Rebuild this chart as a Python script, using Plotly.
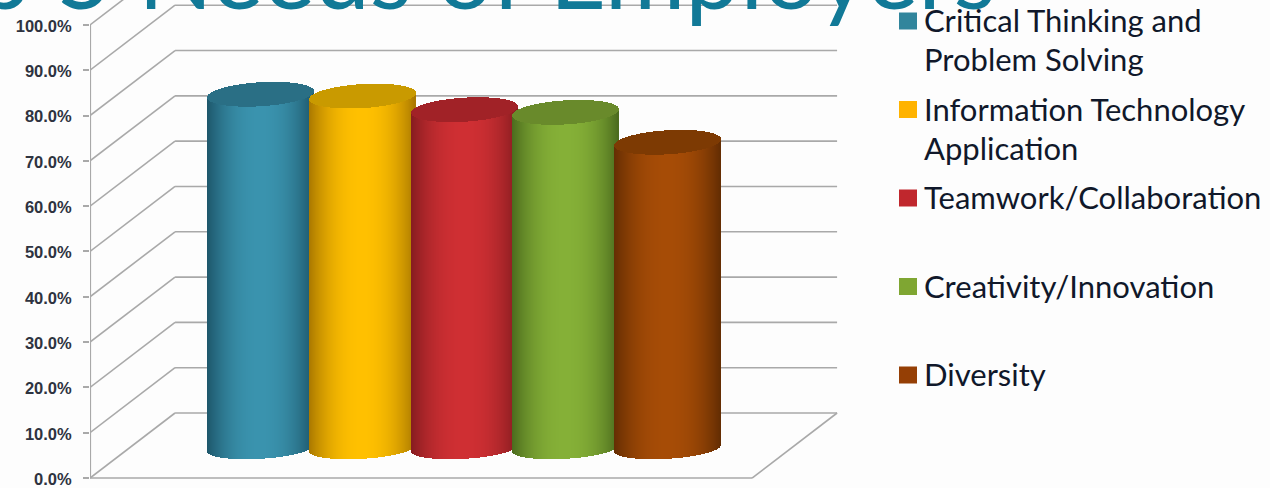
import math
import plotly.graph_objects as go

# Survey results, one cylinder per skill
categories = ["Critical Thinking and<br>Problem Solving", "Information Technology<br>Application",
              "Teamwork/Collaboration", "Creativity/Innovation", "Diversity"]
values = [78.1, 77.7, 74.7, 74.1, 67.5]
tick_values = [0, 10, 20, 30, 40, 50, 60, 70, 80, 90, 100]
tick_labels = [f"{v:.1f}%" for v in tick_values]

# mid tone, edge tone and cap tone of each cylinder
mid_colors = ["#3a93ae", "#ffc000", "#cf2f33", "#85b037", "#a64c06"]
edge_colors = ["#1d566a", "#a97800", "#861c20", "#4b6b1d", "#642d03"]
cap_colors = ["#2a6f85", "#c99a00", "#a12227", "#698a2b", "#7d3a03"]
swatch_colors = ["#31859c", "#ffb300", "#c0272d", "#7fa632", "#953f05"]

# Plot geometry in axis units
WIDTH, HEIGHT = 1270, 488
M_LEFT = 90
X_MIN, X_MAX = -1.683, 9.931
Y_MIN, Y_MAX = -2.2, 105.5
DEPTH_X, DEPTH_Y = 0.837, 14.35     # shift from the front edge to the back wall
FRONT_RIGHT = 4.833
LIFT = 6.6                          # cylinders stand mid-way across the floor
HALF_W = 0.522
CAP_H = 2.65
BASE_H = 2.35
TILT = 0.7
STRIPS = 106


def hex_rgb(c):
    return [int(c[i:i + 2], 16) for i in (1, 3, 5)]


def blend(a, b, k):
    pa, pb = hex_rgb(a), hex_rgb(b)
    return "rgb(" + ",".join(str(round(x + (y - x) * k)) for x, y in zip(pa, pb)) + ")"


fig = go.Figure()
ts = [-1 + 2 * (i + 0.5) / STRIPS for i in range(STRIPS)]
strip_w = 2 * HALF_W / STRIPS * 1.25

for i, val in enumerate(values):
    xs = [i + t * HALF_W for t in ts]
    round_part = [math.sqrt(1 - t * t) for t in ts]
    # body: one thin bar per strip so the shading wraps around the cylinder
    body_base = [LIFT + TILT * t - BASE_H * r for r, t in zip(round_part, ts)]
    body_top = [val + LIFT + TILT * t for t in ts]
    fig.add_trace(go.Bar(
        x=xs, base=body_base, y=[top - b for top, b in zip(body_top, body_base)],
        width=strip_w, hoverinfo="skip", showlegend=False,
        marker=dict(color=[blend(mid_colors[i], edge_colors[i], abs(t) ** 2.2) for t in ts], line_width=0),
    ))
    # flat cap on top of the body
    fig.add_trace(go.Bar(
        x=xs, base=[val + LIFT + TILT * t - CAP_H * r for r, t in zip(round_part, ts)],
        y=[2 * CAP_H * r for r in round_part],
        width=strip_w, hoverinfo="skip", showlegend=False,
        marker=dict(color=cap_colors[i], line_width=0),
    ))

# Walls and floor of the chart box
line = dict(color="#a9a9a9", width=1.6)
shapes = []
for v in tick_values:
    shapes.append(dict(type="line", layer="below", xref="x", yref="y", x0=X_MIN, x1=X_MIN + DEPTH_X,
                       y0=v, y1=v + DEPTH_Y, line=line))
    shapes.append(dict(type="line", layer="below", xref="x", yref="y", x0=X_MIN + DEPTH_X,
                       x1=FRONT_RIGHT + DEPTH_X, y0=v + DEPTH_Y, y1=v + DEPTH_Y, line=line))
shapes.append(dict(type="line", layer="below", xref="x", yref="y", x0=X_MIN, x1=FRONT_RIGHT, y0=0, y1=0, line=line))
shapes.append(dict(type="line", layer="below", xref="x", yref="y", x0=FRONT_RIGHT, x1=FRONT_RIGHT + DEPTH_X,
                   y0=0, y1=DEPTH_Y, line=line))
shapes.append(dict(type="line", layer="below", xref="x", yref="y", x0=X_MIN, x1=X_MIN, y0=0, y1=100,
                   line=dict(color="#a9a9a9", width=2.2)))


def paper_x(px):
    return (px - M_LEFT) / (WIDTH - M_LEFT)


def paper_y(py):
    return (HEIGHT - py) / HEIGHT


# Legend: swatch and wrapped label per skill, on a fixed row pitch
annotations = []
for i, (name, col) in enumerate(zip(categories, swatch_colors)):
    cy = 21 + 88.5 * i
    shapes.append(dict(type="rect", xref="paper", yref="paper", x0=paper_x(899), x1=paper_x(917),
                       y0=paper_y(cy + 8.5), y1=paper_y(cy - 8.5), fillcolor=col, line_width=0))
    for j, part in enumerate(name.split("<br>")):
        annotations.append(dict(xref="paper", yref="paper", x=paper_x(922), y=paper_y(cy - 1 + 39 * j),
                                xanchor="left", yanchor="middle", align="left", showarrow=False, text=part,
                                font=dict(family="Lato", size=31, color="#10182a")))

fig.update_layout(
    width=WIDTH, height=HEIGHT,
    margin=dict(l=M_LEFT, r=0, t=0, b=0, autoexpand=False),
    paper_bgcolor="#fdfdfd", plot_bgcolor="rgba(0,0,0,0)",
    barmode="overlay", bargap=0, showlegend=False,
    shapes=shapes, annotations=annotations,
    title=dict(text="Top 5 Needs of Employers", x=996 / WIDTH, xanchor="right", xref="container",
               y=1 - 9 / HEIGHT, yanchor="bottom", yref="container",
               font=dict(family="Lato", size=98, color="#117997"), automargin=False),
    xaxis=dict(range=[X_MIN, X_MAX], visible=False, fixedrange=True),
    yaxis=dict(range=[Y_MIN, Y_MAX], tickmode="array", tickvals=tick_values, ticktext=tick_labels,
               showgrid=False, zeroline=False, showline=False, ticks="outside", ticklen=6, tickwidth=2,
               tickcolor="#a9a9a9", ticklabelstandoff=8, ticklabelshift=1, ticklabeloverflow="allow",
               tickfont=dict(family="Liberation Sans", size=16.5, color="#2e3340", weight="bold"),
               fixedrange=True),
)

fig.write_html("out.html", config={"displayModeBar": False})
